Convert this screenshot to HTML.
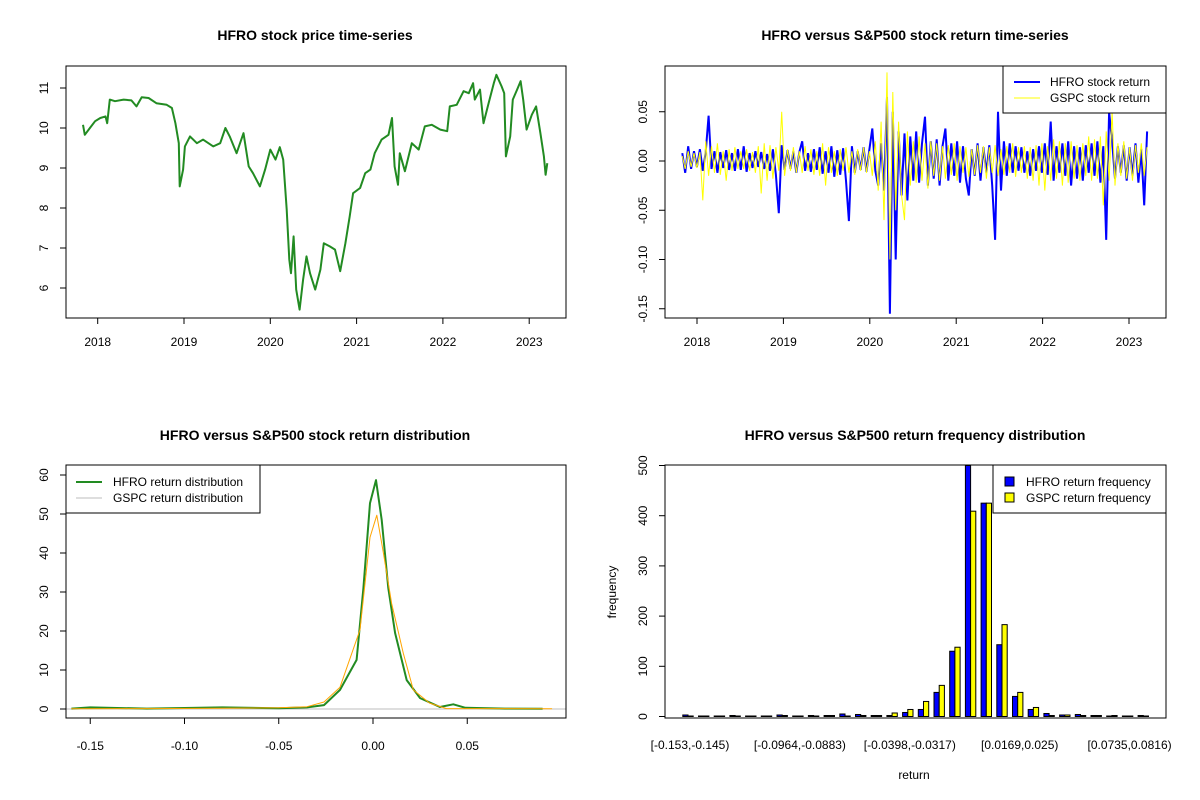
<!DOCTYPE html>
<html><head><meta charset="utf-8"><style>
html,body{margin:0;padding:0;background:#fff}
svg{display:block;font-family:"Liberation Sans",Arial,sans-serif}
</style></head><body>
<svg id="s" width="1200" height="800" viewBox="0 0 1200 800" xmlns="http://www.w3.org/2000/svg">
<rect width="1200" height="800" fill="#fff"/>
</svg>
<script>
// ---- data: price series ----
const priceYears=[2017.83,2017.85,2017.91,2017.97,2018.03,2018.09,2018.11,2018.14,2018.20,2018.30,2018.39,2018.45,2018.51,2018.59,2018.68,2018.80,2018.86,2018.90,2018.94,2018.95,2018.99,2019.01,2019.07,2019.15,2019.22,2019.34,2019.42,2019.48,2019.53,2019.61,2019.69,2019.75,2019.80,2019.88,2019.94,2020.00,2020.06,2020.11,2020.15,2020.19,2020.22,2020.24,2020.27,2020.30,2020.34,2020.38,2020.42,2020.46,2020.52,2020.58,2020.62,2020.69,2020.75,2020.81,2020.87,2020.92,2020.96,2021.04,2021.10,2021.16,2021.21,2021.29,2021.37,2021.41,2021.44,2021.48,2021.50,2021.56,2021.64,2021.72,2021.79,2021.87,2021.97,2022.05,2022.08,2022.16,2022.24,2022.30,2022.35,2022.37,2022.43,2022.47,2022.53,2022.59,2022.62,2022.68,2022.71,2022.73,2022.78,2022.81,2022.86,2022.90,2022.93,2022.97,2023.03,2023.08,2023.13,2023.17,2023.19,2023.21];
const priceValues=[10.08,9.83,10.0,10.17,10.25,10.29,10.12,10.71,10.67,10.71,10.69,10.54,10.77,10.75,10.62,10.58,10.5,10.12,9.62,8.54,8.96,9.54,9.79,9.62,9.71,9.54,9.62,10.0,9.79,9.37,9.87,9.04,8.87,8.54,8.96,9.46,9.21,9.52,9.21,7.96,6.71,6.37,7.29,5.96,5.46,6.21,6.79,6.37,5.96,6.46,7.12,7.04,6.96,6.42,7.12,7.79,8.37,8.5,8.87,8.96,9.37,9.71,9.83,10.25,9.04,8.58,9.37,8.92,9.62,9.46,10.04,10.08,9.96,9.92,10.54,10.58,10.92,10.87,11.12,10.71,10.96,10.12,10.62,11.12,11.33,11.04,10.87,9.29,9.79,10.71,10.96,11.17,10.71,9.96,10.33,10.54,9.87,9.29,8.83,9.12];
const yearTicks=[2018,2019,2020,2021,2022,2023];
const priceTicks=[6,7,8,9,10,11];
// ---- data: returns (x0.001) ----
const retStart=2017.83, retEnd=2023.21;
const hfroRet=[8,-12,15,-8,10,-6,12,-10,9,46,-8,10,-12,9,-7,11,-9,8,-10,12,-9,15,-11,8,-7,10,-6,9,-8,7,-10,12,-14,-53,16,-9,11,-8,10,-12,9,20,-10,8,-11,12,-9,14,-13,10,-12,15,-16,11,-14,13,-20,-61,15,-12,10,-9,14,-11,12,33,-10,-25,18,-30,65,-155,50,-100,30,-35,28,-40,25,-20,30,-22,18,45,-25,20,-18,22,-25,15,33,-20,18,-15,20,-22,15,-18,-35,12,-15,18,-20,14,-12,16,-25,-80,50,-30,20,-15,18,-12,15,-10,14,-12,10,-15,12,-10,15,-12,18,-14,40,-20,15,-12,18,-15,20,-25,15,-18,14,-20,16,-12,18,-15,20,-22,15,-80,50,20,-18,15,-12,16,-20,14,-15,18,-22,12,-45,30];
const gspcRet=[5,-8,10,-6,8,-7,9,-40,20,-15,15,-12,18,-14,10,-20,12,-10,14,-8,10,-8,12,-10,9,-12,15,-33,18,-20,16,-18,14,-10,50,-15,12,-10,14,-12,10,-12,15,-10,12,-14,10,-15,18,-25,14,-12,10,-15,12,-10,14,-12,10,-14,12,-10,14,-12,10,-15,20,-30,40,-60,90,-100,70,-50,40,-35,-60,30,-25,20,-22,25,-20,18,-28,20,-15,18,-20,15,-18,16,-14,18,-20,15,-12,14,-16,12,-14,16,-12,15,-18,14,-12,16,-15,12,-14,15,-12,18,-16,14,-12,15,-18,14,-20,16,-25,18,-30,15,-20,22,-18,20,-25,18,-22,20,-18,16,-20,18,-15,25,-20,22,-18,25,-45,30,-20,50,-25,18,-15,20,-18,14,-20,16,-12,18,-15,14];
const retTicks=[-0.15,-0.10,-0.05,0.00,0.05];
// ---- data: densities ----
const hfroDensX=[-0.16,-0.15,-0.12,-0.08,-0.05,-0.035,-0.026,-0.0175,-0.0087,-0.0051,-0.0016,0.0016,0.0046,0.0081,0.0117,0.0179,0.025,0.0355,0.0426,0.049,0.07,0.09];
const hfroDensY=[0.1,0.4,0.1,0.4,0.2,0.4,1.0,4.9,12.6,31,52.8,58.7,48.5,31,19.5,7.4,2.8,0.5,1.2,0.3,0.1,0.05];
const gspcDensX=[-0.16,-0.12,-0.08,-0.05,-0.035,-0.026,-0.0175,-0.0069,-0.0016,0.002,0.0055,0.0099,0.0161,0.0214,0.030,0.039,0.06,0.095];
const gspcDensY=[0.05,0.1,0.2,0.3,0.6,1.8,5.6,20.3,44,49.7,40,27,14.3,4.9,1.5,0.1,0.1,0.05];
const densXTicks=[-0.15,-0.10,-0.05,0.00,0.05];
const densYTicks=[0,10,20,30,40,50,60];
// ---- data: histogram ----
const binLabels=["[-0.153,-0.145)","[-0.0964,-0.0883)","[-0.0398,-0.0317)","[0.0169,0.025)","[0.0735,0.0816)"];
const binLabelIdx=[0,7,14,21,28];
const hfroFreq=[3,1,1,2,1,1,3,1,2,2,5,4,2,2,8,14,48,130,500,425,143,40,14,6,3,4,2,1,1,2];
const gspcFreq=[1,1,1,1,1,1,2,1,1,2,1,2,2,7,14,30,62,138,409,425,183,48,18,2,3,2,2,2,1,1];
const freqTicks=[0,100,200,300,400,500];

const NS="http://www.w3.org/2000/svg";
const svg=document.getElementById('s');
function mk(tag,attrs,parent){const e=document.createElementNS(NS,tag);for(const k in attrs)e.setAttribute(k,attrs[k]);(parent||svg).appendChild(e);return e;}
function txt(x,y,s,size,opts,parent){opts=opts||{};const a={x:x,y:y,'font-size':size,'text-anchor':opts.anchor||'middle',fill:'#000'};if(opts.bold)a['font-weight']='bold';if(opts.rot)a.transform='rotate(-90 '+x+' '+y+')';const t=mk('text',a,parent);t.textContent=s;return t;}
function grp(name){const g=mk('g',{});

return g;}
function box(x0,y0,x1,y1,g){mk('rect',{x:x0,y:y0,width:x1-x0,height:y1-y0,fill:'none',stroke:'#000','stroke-width':1},g);}

// ===== Panel 1: price =====
(function(){
const g=grp('price-panel');
const X=v=>97.7+(v-2018)*86.3, Y=v=>88+(11-v)*40;
const t=txt(315,40,'HFRO stock price time-series',14,{bold:true},g);


let d='';priceYears.forEach((yr,i)=>{d+=(i?'L':'M')+X(yr).toFixed(1)+' '+Y(priceValues[i]).toFixed(1);});
const p=mk('path',{d:d,fill:'none',stroke:'#228b22','stroke-width':2,'stroke-linejoin':'round'},g);


box(66,66,566,318,g);
yearTicks.forEach(v=>{mk('line',{x1:X(v),x2:X(v),y1:318,y2:324,stroke:'#000'},g);txt(X(v),346,String(v),12,{},g);});
priceTicks.forEach(v=>{mk('line',{x1:60,x2:66,y1:Y(v),y2:Y(v),stroke:'#000'},g);txt(48,Y(v),String(v),12,{rot:true},g);});
})();

// ===== Panel 2: returns =====
(function(){
const g=grp('returns-panel');
const X=v=>697+(v-2018)*86.4, Y=v=>161-v*985;
const t=txt(915,40,'HFRO versus S&P500 stock return time-series',14,{bold:true},g);


function line(arr,col,w,name){const n=arr.length;let d='';arr.forEach((v,i)=>{const yr=retStart+i*(retEnd-retStart)/(n-1);d+=(i?'L':'M')+X(yr).toFixed(1)+' '+Y(v/1000).toFixed(1);});
const p=mk('path',{d:d,fill:'none',stroke:col,'stroke-width':w},g);

}
line(hfroRet,'#0000ff',2,'hfro-return-line');
line(gspcRet,'#ffff00',1,'gspc-return-line');
box(665,66,1166,318,g);
yearTicks.forEach(v=>{mk('line',{x1:X(v),x2:X(v),y1:318,y2:324,stroke:'#000'},g);txt(X(v),346,String(v),12,{},g);});
retTicks.forEach(v=>{mk('line',{x1:659,x2:665,y1:Y(v),y2:Y(v),stroke:'#000'},g);txt(647,Y(v),v.toFixed(2),12,{rot:true},g);});
const lg=grp('returns-legend');g.appendChild(lg);
mk('rect',{x:1003,y:66,width:163,height:47,fill:'#fff',stroke:'#000'},lg);
mk('line',{x1:1014,x2:1040,y1:82,y2:82,stroke:'#0000ff','stroke-width':2},lg);
mk('line',{x1:1014,x2:1040,y1:98,y2:98,stroke:'#ffff00','stroke-width':1},lg);
txt(1050,86,'HFRO stock return',12,{anchor:'start'},lg);
txt(1050,102,'GSPC stock return',12,{anchor:'start'},lg);
})();

// ===== Panel 3: density =====
(function(){
const g=grp('density-panel');
const X=v=>373+v*1885, Y=v=>709-v*3.9;
const t=txt(315,440,'HFRO versus S&P500 stock return distribution',14,{bold:true},g);


mk('line',{x1:66,x2:566,y1:709,y2:709,stroke:'#bebebe'},g);
function curve(xs,ys,col,w,name){let d='';xs.forEach((x,i)=>{d+=(i?'L':'M')+X(x).toFixed(1)+' '+Y(ys[i]).toFixed(1);});
const p=mk('path',{d:d,fill:'none',stroke:col,'stroke-width':w,'stroke-linejoin':'round'},g);

}
curve(hfroDensX,hfroDensY,'#228b22',2,'hfro-density-line');
curve(gspcDensX,gspcDensY,'#ffa500',1,'gspc-density-line');
box(66,465,566,718,g);
densXTicks.forEach(v=>{mk('line',{x1:X(v),x2:X(v),y1:718,y2:724,stroke:'#000'},g);txt(X(v),750,v.toFixed(2),12,{},g);});
densYTicks.forEach(v=>{mk('line',{x1:60,x2:66,y1:Y(v),y2:Y(v),stroke:'#000'},g);txt(48,Y(v),String(v),12,{rot:true},g);});
const lg=grp('density-legend');g.appendChild(lg);
mk('rect',{x:66,y:465,width:194,height:48,fill:'#fff',stroke:'#000'},lg);
mk('line',{x1:76,x2:102,y1:482,y2:482,stroke:'#228b22','stroke-width':2},lg);
mk('line',{x1:76,x2:102,y1:498,y2:498,stroke:'#bebebe','stroke-width':1},lg);
txt(113,486,'HFRO return distribution',12,{anchor:'start'},lg);
txt(113,502,'GSPC return distribution',12,{anchor:'start'},lg);
})();

// ===== Panel 4: histogram =====
(function(){
const g=grp('histogram-panel');
const C=i=>688+i*15.7, Y=v=>716.5-v*0.502, bw=5.2;
const t=txt(915,440,'HFRO versus S&P500 return frequency distribution',14,{bold:true},g);


hfroFreq.forEach((v,i)=>{
const r=mk('rect',{x:C(i)-bw,y:Y(v),width:bw,height:Math.max(0,Y(0)-Y(v)),fill:'#0000ff',stroke:'#000','stroke-width':1},g);


const v2=gspcFreq[i];
const r2=mk('rect',{x:C(i),y:Y(v2),width:bw,height:Math.max(0,Y(0)-Y(v2)),fill:'#ffff00',stroke:'#000','stroke-width':1},g);


});
box(665,465,1166,718,g);
binLabelIdx.forEach((idx,k)=>{txt(C(idx)+2,749,binLabels[k],12,{},g);});
freqTicks.forEach(v=>{mk('line',{x1:659,x2:665,y1:Y(v),y2:Y(v),stroke:'#000'},g);txt(647,Y(v),String(v),12,{rot:true},g);});
txt(914,779,'return',12,{},g);
txt(616,592,'frequency',12,{rot:true},g);
const lg=grp('histogram-legend');g.appendChild(lg);
mk('rect',{x:993,y:465,width:173,height:48,fill:'#fff',stroke:'#000'},lg);
mk('rect',{x:1005,y:477,width:9,height:9,fill:'#0000ff',stroke:'#000'},lg);
mk('rect',{x:1005,y:493,width:9,height:9,fill:'#ffff00',stroke:'#000'},lg);
txt(1026,486,'HFRO return frequency',12,{anchor:'start'},lg);
txt(1026,502,'GSPC return frequency',12,{anchor:'start'},lg);
})();
</script>
</body></html>
